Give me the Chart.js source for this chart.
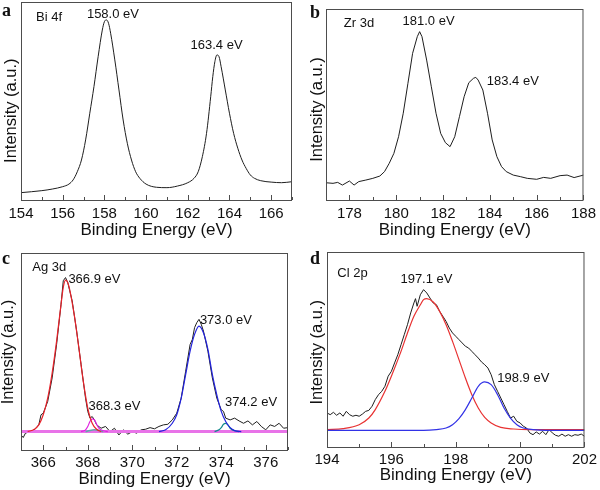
<!DOCTYPE html>
<html><head><meta charset="utf-8">
<script src="https://cdn.jsdelivr.net/npm/chart.js@4.4.1/dist/chart.umd.min.js"></script>
<style>
html,body{margin:0;padding:0;background:#fff;}
#wrap{position:relative;width:600px;height:490px;overflow:hidden;background:#fff;}
canvas{position:absolute;}
</style></head><body>
<div id="wrap">
<canvas id="pa" width="300" height="245" style="left:0;top:0"></canvas>
<canvas id="pb" width="300" height="245" style="left:300px;top:0"></canvas>
<canvas id="pc" width="300" height="245" style="left:0;top:245px"></canvas>
<canvas id="pd" width="300" height="245" style="left:300px;top:245px"></canvas>
</div>
<script>
// ---------- Panel a: Bi 4f ----------
const biEnergy = [154.0,155.0,155.5,156.0,156.3,156.5,156.7,156.9,157.1,157.3,157.5,157.7,157.9,158.0,158.1,158.2,158.3,158.5,158.7,158.9,159.1,159.3,159.5,159.7,160.0,160.5,161.0,161.5,162.0,162.3,162.5,162.7,162.9,163.1,163.2,163.3,163.4,163.5,163.6,163.8,164.0,164.2,164.4,164.6,164.8,165.0,165.2,165.5,166.0,166.5,167.0];
const biIntensity = [4.2,5.2,6.0,7.2,8.5,10.6,14.7,20.6,30.7,44.1,57.5,72.5,85.9,90.1,91.0,89.3,84.3,70.9,55.8,40.7,29.0,20.6,14.7,11.4,8.5,6.9,6.7,7.5,9.2,11.4,14.7,22.3,34.0,52.4,62.5,70.0,73.4,72.5,67.5,55.8,44.1,34.0,26.5,20.6,16.4,13.1,11.4,10.2,9.5,9.2,9.7];
const biTicks = [154,156,158,160,162,164,166];

// ---------- Panel b: Zr 3d ----------
const zrEnergy = [177.0,177.3,177.5,177.7,178.0,178.2,178.4,178.7,179.0,179.3,179.5,179.7,179.9,180.1,180.3,180.5,180.7,180.9,181.0,181.1,181.3,181.5,181.7,181.9,182.1,182.3,182.5,182.7,182.9,183.1,183.3,183.4,183.5,183.7,183.9,184.1,184.3,184.5,184.7,185.0,185.3,185.6,186.0,186.3,186.6,187.0,187.3,187.6,188.0];
const zrIntensity = [9.5,9.2,9.7,8.3,10.4,8.3,10.1,10.9,11.8,13.0,15.3,19.6,24.8,33.5,45.7,61.3,76.9,85.6,88.2,85.6,73.4,59.5,45.7,35.2,30.4,28.3,33.5,43.9,54.3,61.6,63.9,64.4,63.0,57.8,45.7,31.8,23.1,17.9,15.3,13.5,12.7,11.8,11.3,12.3,11.8,13.2,13.5,12.2,13.5];
const zrTicks = [178,180,182,184,186,188];

// ---------- Panel c: Ag 3d ----------
const agEnergy = [365.0,365.1,365.2,365.4,365.6,365.8,365.9,366.0,366.2,366.4,366.6,366.8,366.9,367.0,367.1,367.3,367.5,367.7,367.9,368.0,368.1,368.2,368.3,368.4,368.6,368.8,369.0,369.2,369.4,369.6,369.8,370.0,370.2,370.4,370.6,370.8,371.0,371.2,371.4,371.6,371.8,372.0,372.2,372.4,372.6,372.7,372.8,372.9,373.0,373.1,373.2,373.4,373.6,373.8,374.0,374.1,374.2,374.4,374.6,374.8,375.0,375.2,375.4,375.6,375.8,376.0,376.2,376.4,376.6,376.8,377.0];
const agIntensity = [8.1,6.8,9.0,9.8,10.7,13.2,18.3,19.1,25.0,36.9,53.8,74.1,86.0,87.6,85.1,75.8,60.6,43.7,26.7,20.0,16.6,17.4,15.7,13.2,11.5,12.4,9.8,11.5,8.1,10.7,8.5,9.8,9.0,10.7,11.0,11.8,11.2,12.4,13.2,13.5,15.7,19.1,26.7,40.3,53.8,56.3,62.3,64.8,66.5,64.0,60.6,50.4,36.9,26.7,20.8,20.0,16.6,15.7,16.6,15.2,14.0,15.2,13.2,14.9,12.4,10.7,13.2,12.4,14.0,11.5,11.8];
const agFit1Energy = [365.3,365.6,365.8,366.0,366.2,366.4,366.6,366.8,366.9,367.0,367.1,367.2,367.4,367.6,367.8,368.0,368.2,368.4,368.6];
const agFit1Intensity = [9.8,11.0,13.2,18.3,26.7,39.4,55.5,74.1,82.6,86.3,85.1,80.9,68.2,52.1,35.2,21.7,14.0,11.0,9.8];
const agFit2Energy = [367.7,367.9,368.0,368.1,368.2,368.3,368.4,368.5,368.7,368.9];
const agFit2Intensity = [9.8,10.7,12.4,14.9,16.2,15.7,13.5,11.5,10.2,9.8];
const agFit3Energy = [371.2,371.5,371.8,372.0,372.2,372.4,372.6,372.8,373.0,373.2,373.4,373.6,373.8,374.0,374.2,374.4,374.6,374.9];
const agFit3Intensity = [9.8,10.7,14.0,18.3,26.7,38.6,50.4,58.9,63.1,59.7,51.3,38.6,28.4,20.0,14.9,11.8,10.3,9.8];
const agFit4Energy = [373.7,373.9,374.0,374.1,374.2,374.3,374.4,374.6,374.8];
const agFit4Intensity = [9.8,10.7,11.8,13.5,14.0,13.2,11.5,10.2,9.8];
const agFit5Energy = [367.9,368.1,368.3,368.5,368.7];
const agFit5Intensity = [9.8,10.4,10.7,10.4,9.8];
const agBaseEnergy = [365.0,377.0];
const agBaseIntensity = [9.8,9.8];
const agTicks = [366,368,370,372,374,376];

// ---------- Panel d: Cl 2p ----------
const clEnergy = [194.0,194.1,194.2,194.3,194.4,194.5,194.6,194.7,194.8,194.9,195.0,195.1,195.2,195.3,195.4,195.5,195.6,195.7,195.8,195.9,196.0,196.1,196.2,196.3,196.4,196.5,196.6,196.7,196.75,196.8,196.9,197.0,197.1,197.2,197.3,197.4,197.5,197.6,197.7,197.8,197.9,198.0,198.1,198.2,198.3,198.4,198.5,198.6,198.7,198.8,198.9,199.0,199.1,199.2,199.3,199.4,199.5,199.6,199.7,199.8,199.9,200.0,200.1,200.2,200.3,200.4,200.5,200.6,200.7,200.8,200.9,201.0,201.1,201.2,201.3,201.4,201.5,201.6,201.7,201.8,201.9,202.0];
const clIntensity = [17.9,17.0,18.2,16.7,17.9,16.2,18.7,17.0,16.2,16.7,16.2,17.3,18.7,19.2,21.3,24.7,27.2,28.9,31.5,36.6,39.1,43.4,47.6,52.7,57.8,62.9,68.9,74.0,76.2,72.3,78.2,80.8,79.1,76.5,74.0,73.1,69.7,67.2,64.6,61.2,58.7,57.0,55.3,53.6,51.9,51.0,49.3,47.6,45.9,43.9,42.5,40.8,37.4,32.3,28.9,25.5,22.1,18.7,15.3,16.2,13.6,12.8,11.1,10.2,7.7,6.8,8.2,7.1,8.5,6.8,9.4,7.7,6.5,6.0,7.1,6.0,6.8,6.0,6.8,6.5,7.1,6.0];
const clFit1Energy = [194.0,194.5,195.0,195.3,195.5,195.8,196.0,196.3,196.5,196.7,196.9,197.0,197.1,197.3,197.5,197.7,197.9,198.1,198.3,198.5,198.7,198.9,199.1,199.4,199.8,200.3,202.0];
const clFit1Intensity = [9.4,9.9,11.9,15.3,19.6,28.9,36.6,49.3,58.7,67.2,73.1,75.7,76.2,74.5,69.7,62.9,54.4,45.1,35.7,27.2,20.4,15.6,12.8,10.5,9.7,9.4,9.4];
const clFit2Energy = [194.0,197.0,197.4,197.7,197.9,198.1,198.3,198.5,198.7,198.9,199.1,199.3,199.5,199.7,199.9,200.1,200.4,200.8,202.0];
const clFit2Intensity = [9.0,9.0,9.4,10.2,11.9,15.0,19.6,25.5,31.5,33.7,32.3,27.2,20.4,15.3,11.9,10.2,9.4,9.0,9.0];
const clTicks = [194,196,198,200,202];

// ---------- rendering ----------
const FONT = '"Liberation Sans", Arial, Helvetica, sans-serif';
const SERIF = '"Liberation Serif", "Times New Roman", serif';
const TEXT = '#111111';

const boxPlugin = {
  id: 'box',
  afterDatasetsDraw(chart, args, opts) {
    const {ctx, chartArea: ca, scales: {x, y}} = chart;
    ctx.save();
    ctx.strokeStyle = '#4d4d4d';
    ctx.lineWidth = 1;
    ctx.strokeRect(ca.left + 0.5, ca.top + 0.5, ca.right - ca.left - 1, ca.bottom - ca.top - 1);
    ctx.beginPath();
    for (let v = Math.ceil(x.min); v <= x.max; v++) {
      const px = Math.round(x.getPixelForValue(v)) + 0.5;
      const len = v % 2 === 0 ? 5 : 3;
      ctx.moveTo(px, ca.bottom - 1);
      ctx.lineTo(px, ca.bottom - 1 - len);
    }
    ctx.stroke();
    ctx.fillStyle = TEXT;
    ctx.font = '13px ' + FONT;
    ctx.textBaseline = 'alphabetic';
    (opts.labels || []).forEach(l => {
      ctx.textAlign = l.align || 'left';
      ctx.fillText(l.text, x.getPixelForValue(l.x), y.getPixelForValue(l.y));
    });
    ctx.font = 'bold 18px ' + SERIF;
    ctx.textAlign = 'left';
    ctx.fillText(opts.letter, opts.letterX, opts.letterY);
    ctx.restore();
  }
};

function panel(id, p) {
  new Chart(document.getElementById(id), {
    type: 'line',
    data: {
      datasets: p.series.map(s => ({
        data: s.x.map((v, i) => ({x: v, y: s.y[i]})),
        borderColor: s.color,
        borderWidth: s.width || 1,
        pointRadius: 0,
        fill: false,
        order: s.order || 1,
        tension: 0,
        cubicInterpolationMode: s.smooth ? 'monotone' : 'default'
      }))
    },
    options: {
      responsive: false,
      animation: false,
      devicePixelRatio: 1,
      layout: {padding: {left: 0, top: p.padTop, right: p.padRight, bottom: 0}},
      plugins: {
        legend: {display: false},
        tooltip: {enabled: false},
        box: {labels: p.labels, letter: p.letter, letterX: p.letterX, letterY: p.letterY}
      },
      scales: {
        x: {
          type: 'linear', min: p.xMin, max: p.xMax,
          afterBuildTicks: s => { s.ticks = p.ticks.map(v => ({value: v})); },
          ticks: {font: {family: FONT, size: 15}, color: TEXT, padding: p.tickPad, maxRotation: 0, autoSkip: false},
          grid: {display: false, drawTicks: false},
          border: {display: false},
          title: {display: true, text: 'Binding Energy (eV)', color: TEXT,
                  font: {family: FONT, size: 17, lineHeight: 1}, padding: {top: 0, bottom: p.xTitlePad}},
          afterFit: s => { s.height = p.xH; }
        },
        y: {
          type: 'linear', min: 0, max: 100,
          ticks: {display: false},
          grid: {display: false, drawTicks: false},
          border: {display: false},
          title: {display: true, text: p.yTitle, color: TEXT,
                  font: {family: FONT, size: 16.5, lineHeight: 1}, padding: {top: p.yTitlePad, bottom: 0}},
          afterFit: s => { s.width = p.yW; }
        }
      }
    },
    plugins: [boxPlugin]
  });
}

const BLACK = '#1e1e1e';

panel('pa', {
  xMin: 154, xMax: 167, ticks: biTicks, yW: 21, xH: 44, padTop: 2, padRight: 8,
  tickPad: 4, xTitlePad: 6.5, yTitlePad: 3, yTitle: 'Intensity (a.u.)    ',
  letter: 'a', letterX: 2, letterY: 16,
  series: [{x: biEnergy, y: biIntensity, color: BLACK, width: 1, smooth: true}],
  labels: [
    {text: 'Bi 4f', x: 154.72, y: 90.5},
    {text: '158.0 eV', x: 158.41, y: 92, align: 'center'},
    {text: '163.4 eV', x: 163.38, y: 76.4, align: 'center'}
  ]
});

panel('pb', {
  xMin: 177, xMax: 188, ticks: zrTicks, yW: 26, xH: 44, padTop: 9, padRight: 13,
  tickPad: 4, xTitlePad: 6.5, yTitlePad: 9, yTitle: 'Intensity (a.u.)  ',
  letter: 'b', letterX: 10, letterY: 18,
  series: [{x: zrEnergy, y: zrIntensity, color: BLACK, width: 1}],
  labels: [
    {text: 'Zr 3d', x: 177.76, y: 90.8},
    {text: '181.0 eV', x: 181.38, y: 91.7, align: 'center'},
    {text: '183.4 eV', x: 183.87, y: 60.4}
  ]
});

panel('pc', {
  xMin: 365, xMax: 377, ticks: agTicks, yW: 21, xH: 39, padTop: 8, padRight: 12,
  tickPad: 3, xTitlePad: 2.5, yTitlePad: 0, yTitle: 'Intensity (a.u.)',
  letter: 'c', letterX: 2, letterY: 19,
  series: [
    {x: agEnergy, y: agIntensity, color: BLACK, width: 1, order: 10},
    {x: agBaseEnergy, y: agBaseIntensity, color: '#e873e8', width: 3, order: 5},
    {x: agFit5Energy, y: agFit5Intensity, color: '#5fa8a8', width: 1.5, smooth: true, order: 4},
    {x: agFit1Energy, y: agFit1Intensity, color: '#e8222a', width: 1.2, smooth: true, order: 1},
    {x: agFit2Energy, y: agFit2Intensity, color: '#e020e0', width: 1.2, smooth: true, order: 1},
    {x: agFit3Energy, y: agFit3Intensity, color: '#2222dd', width: 1.2, smooth: true, order: 1},
    {x: agFit4Energy, y: agFit4Intensity, color: '#108a8a', width: 1.2, smooth: true, order: 1}
  ],
  labels: [
    {text: 'Ag 3d', x: 365.51, y: 91},
    {text: '366.9 eV', x: 367.13, y: 84.6},
    {text: '368.3 eV', x: 368.03, y: 20.8},
    {text: '373.0 eV', x: 373.04, y: 64},
    {text: '374.2 eV', x: 374.17, y: 22.8}
  ]
});

panel('pd', {
  xMin: 194, xMax: 202, ticks: clTicks, yW: 27, xH: 42, padTop: 7, padRight: 13,
  tickPad: 3, xTitlePad: 6.5, yTitlePad: 9, yTitle: 'Intensity (a.u.) ',
  letter: 'd', letterX: 10, letterY: 19,
  series: [
    {x: clEnergy, y: clIntensity, color: BLACK, width: 1, order: 10},
    {x: clFit1Energy, y: clFit1Intensity, color: '#e83232', width: 1.2, smooth: true, order: 2},
    {x: clFit2Energy, y: clFit2Intensity, color: '#3232e6', width: 1.2, smooth: true, order: 1}
  ],
  labels: [
    {text: 'Cl 2p', x: 194.32, y: 87.4},
    {text: '197.1 eV', x: 197.09, y: 84, align: 'center'},
    {text: '198.9 eV', x: 199.29, y: 33.7}
  ]
});
</script>
</body></html>
